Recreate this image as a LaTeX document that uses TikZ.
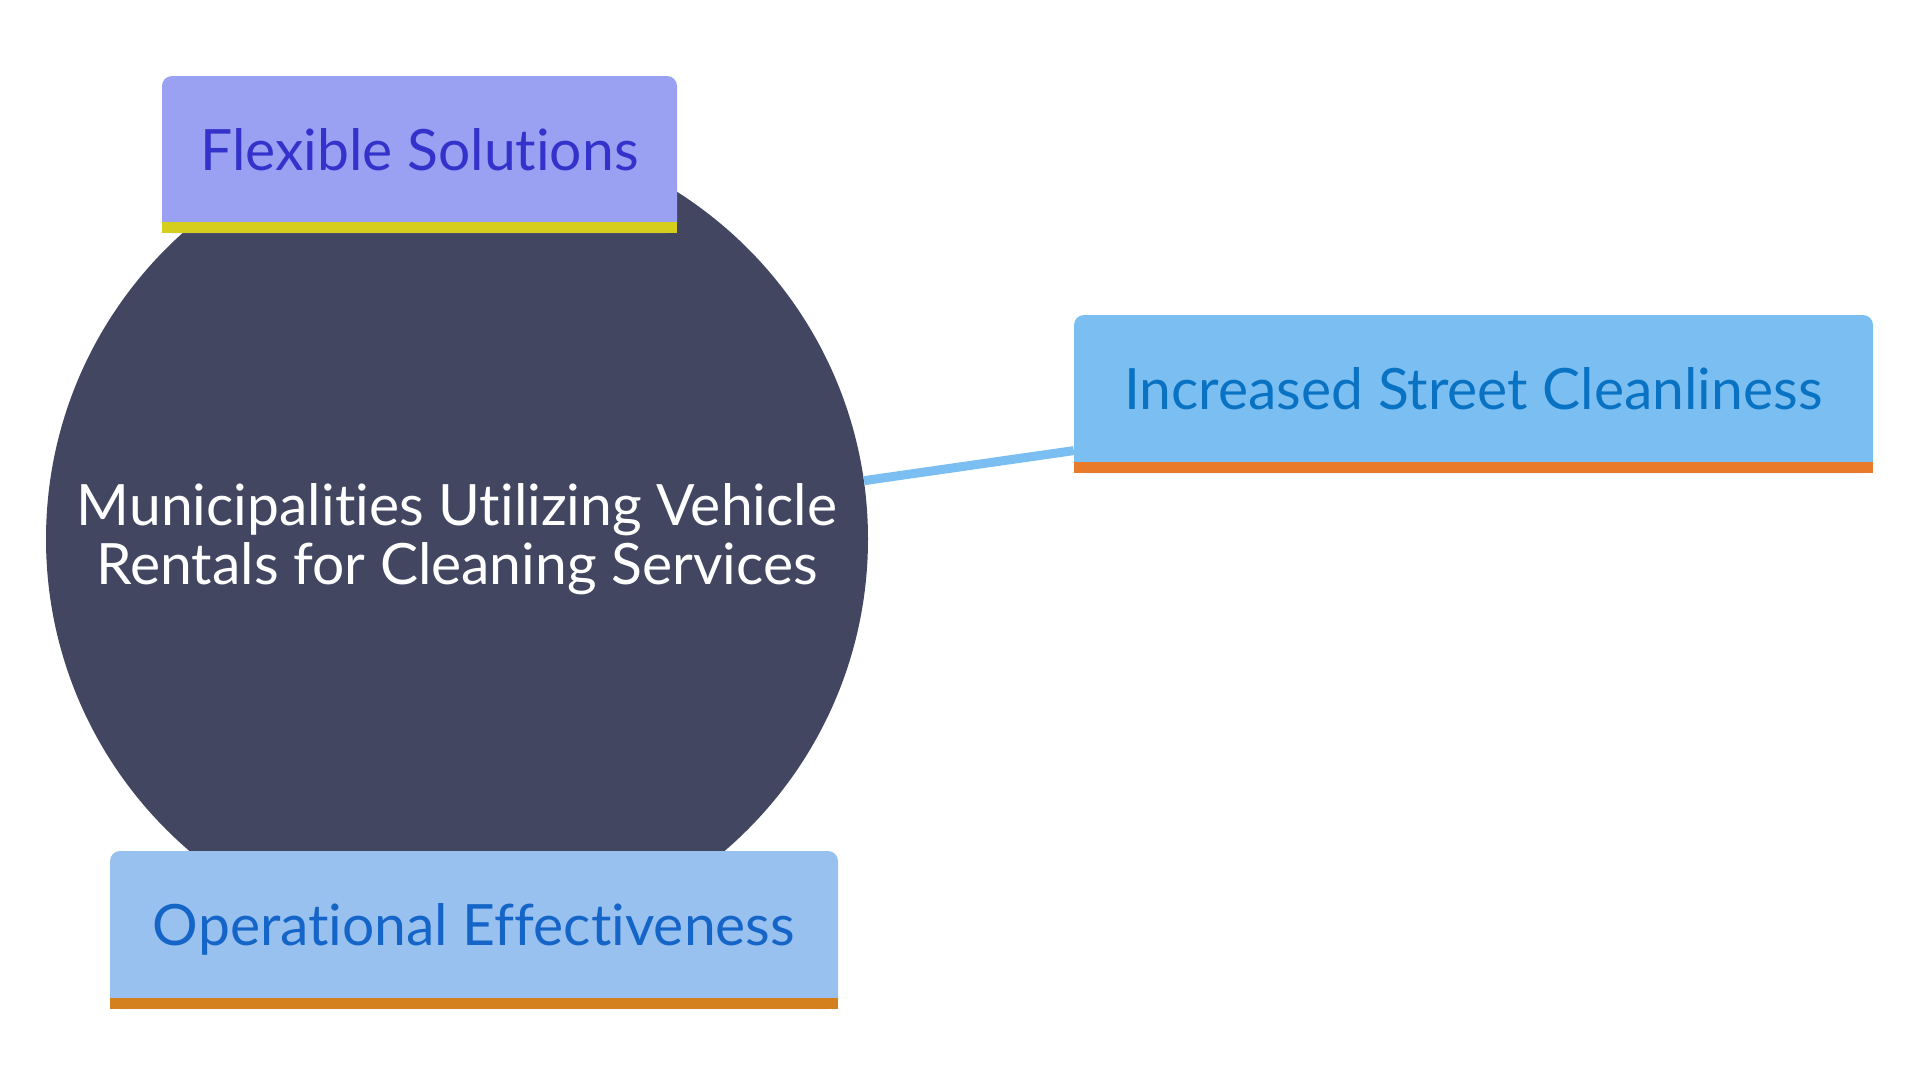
\documentclass[tikz,border=0pt]{standalone}
\usepackage{fontspec}
\setmainfont{Lato}[Ligatures={NoCommon,NoRare}]
\usetikzlibrary{calc}
\definecolor{circ}{HTML}{424660}
\definecolor{flexfill}{HTML}{9AA0F2}
\definecolor{flextext}{HTML}{3333CC}
\definecolor{flexbar}{HTML}{D6CE1C}
\definecolor{incfill}{HTML}{7BBFF2}
\definecolor{inctext}{HTML}{0A72C2}
\definecolor{incbar}{HTML}{E87A2A}
\definecolor{opfill}{HTML}{99C1EF}
\definecolor{optext}{HTML}{1565C8}
\definecolor{opbar}{HTML}{D5801E}
\tikzset{
  boxnode/.style={rectangle, rounded corners=10pt, inner sep=0pt},
  lbl/.style={anchor=base, inner sep=0pt, font=\fontsize{57}{59}\selectfont},
  edgeline/.style={draw=incfill, line width=9pt},
}
\begin{document}
\begin{tikzpicture}[x=1pt,y=-1pt]
\useasboundingbox (0,0) rectangle (1920,1080);
% central circle
\node[circle, fill=circ, minimum size=822pt, inner sep=0pt, text=white, align=center,
      font=\fontsize{57}{59}\selectfont] (c) at (457,539)
      {Municipalities Utilizing Vehicle\\Rentals for Cleaning Services};
% boxes
\node[boxnode, fill=flexfill, minimum width=515pt, minimum height=157pt] (flex) at (419.5,154.5) {};
\fill[flexbar] (flex.south west) rectangle ($(flex.south east)+(0,-11)$);
\node[boxnode, fill=incfill, minimum width=799pt, minimum height=158pt] (inc) at (1473.5,394) {};
\fill[incbar] (inc.south west) rectangle ($(inc.south east)+(0,-11)$);
\node[boxnode, fill=opfill, minimum width=728pt, minimum height=158pt] (op) at (474,930) {};
\fill[opbar] (op.south west) rectangle ($(op.south east)+(0,-11)$);
% connector
\draw[edgeline] (c) -- (inc);
% labels
\node[lbl, text=flextext] (flexlbl) at (419.5,170) {Flexible Solutions};
\node[lbl, text=inctext] (inclbl) at (1473.5,409) {Increased Street Cleanliness};
\node[lbl, text=optext] (oplbl) at (474,945) {Operational Effectiveness};
\end{tikzpicture}
\end{document}
